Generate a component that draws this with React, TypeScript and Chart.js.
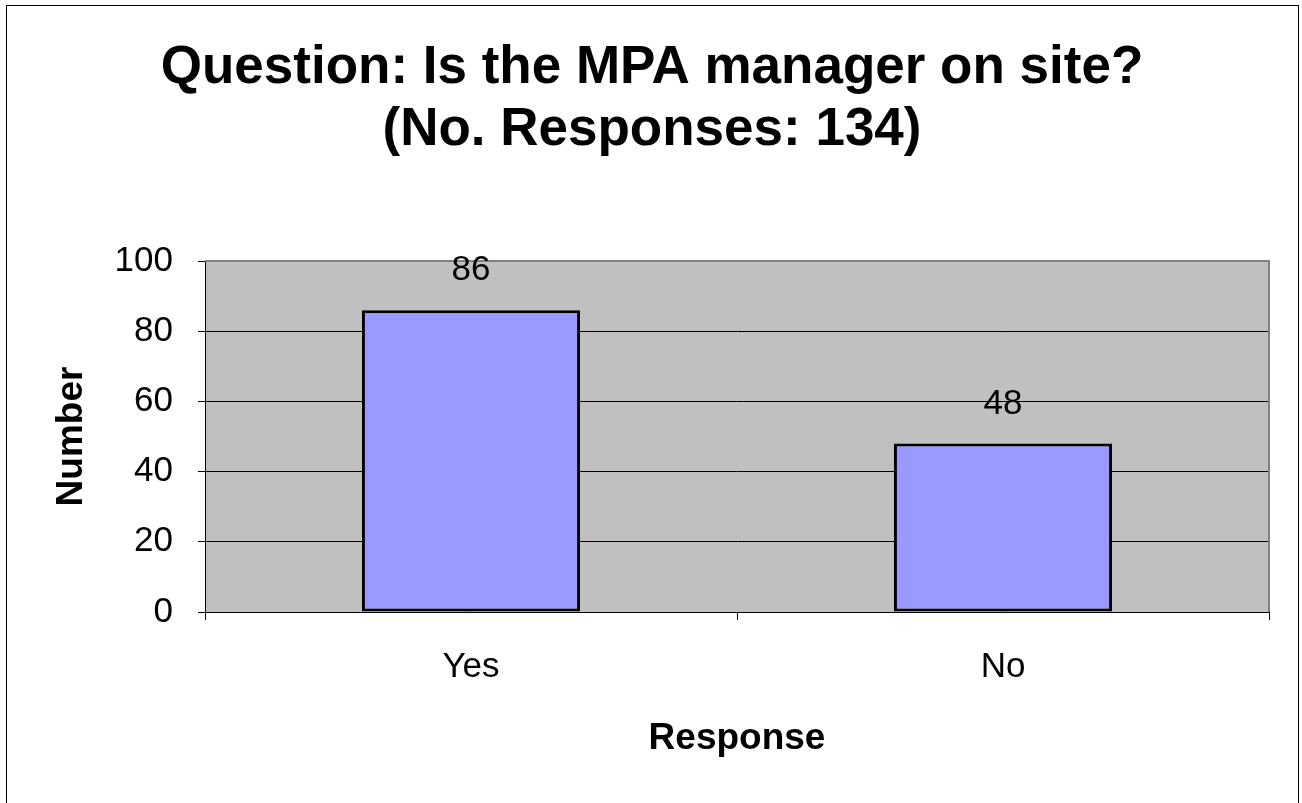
import React, { useEffect, useRef } from "react";
import { Chart, registerables } from "chart.js";

Chart.register(...registerables);

const titleLines = ["Question: Is the MPA manager on site?", "(No. Responses: 134)"];
const categories = ["Yes", "No"];
const counts = [86, 48];
const yMin = 0;
const yMax = 100;
const yStep = 20;
const xAxisTitle = "Response";
const yAxisTitle = "Number";

const FONT = "'Liberation Sans', Arial, Helvetica, sans-serif";

const plotBackground = {
  id: "plotBackground",
  beforeDraw(chart: any) {
    const { ctx, chartArea } = chart;
    ctx.save();
    ctx.fillStyle = "#C0C0C0";
    ctx.fillRect(chartArea.left, chartArea.top, chartArea.right - chartArea.left, chartArea.bottom - chartArea.top);
    ctx.restore();
  },
  beforeDatasetsDraw(chart: any) {
    const { ctx, chartArea } = chart;
    ctx.save();
    ctx.strokeStyle = "#808080";
    ctx.lineWidth = 2;
    ctx.beginPath();
    ctx.moveTo(chartArea.left, chartArea.top);
    ctx.lineTo(chartArea.right, chartArea.top);
    ctx.lineTo(chartArea.right, chartArea.bottom);
    ctx.stroke();
    ctx.restore();
  },
};

const valueLabels = {
  id: "valueLabels",
  afterDatasetsDraw(chart: any) {
    const { ctx } = chart;
    const meta = chart.getDatasetMeta(0);
    ctx.save();
    ctx.font = `35px ${FONT}`;
    ctx.fillStyle = "#000";
    ctx.textAlign = "center";
    ctx.textBaseline = "alphabetic";
    meta.data.forEach((el: any, i: number) => {
      ctx.fillText(String(counts[i]), el.x, el.y - 30);
    });
    ctx.restore();
  },
};

export default function App() {
  const ref = useRef<HTMLCanvasElement | null>(null);

  useEffect(() => {
    if (!ref.current) return;
    Chart.defaults.font.family = FONT;
    const chart = new Chart(ref.current, {
      type: "bar",
      data: {
        labels: categories,
        datasets: [
          {
            data: counts,
            backgroundColor: "#9999FF",
            borderColor: "#000000",
            borderWidth: 3,
            borderSkipped: false,
            barPercentage: 0.41,
            categoryPercentage: 1,
          },
        ],
      },
      options: {
        responsive: false,
        animation: false,
        devicePixelRatio: 1,
        layout: { padding: 0 },
        plugins: {
          legend: { display: false },
          tooltip: { enabled: false },
          title: {
            display: true,
            text: titleLines,
            color: "#000",
            font: { family: FONT, size: 53, weight: "bold", lineHeight: 62 / 53 },
            padding: { top: 31, bottom: 100 },
          },
        },
        scales: {
          x: {
            type: "category",
            offset: true,
            grid: {
              display: true,
              drawOnChartArea: false,
              offset: true,
              tickLength: 8,
              color: "#000",
              tickColor: "#000",
              lineWidth: 1,
            },
            border: { display: true, color: "#000", width: 1 },
            ticks: { color: "#000", font: { family: FONT, size: 35 }, padding: 26 },
            title: {
              display: true,
              text: xAxisTitle,
              color: "#000",
              font: { family: FONT, size: 37, weight: "bold", lineHeight: 1.2 },
              padding: { top: 0, bottom: 42 },
            },
            afterFit: (s: any) => {
              s.height = 191;
            },
          },
          y: {
            type: "linear",
            min: yMin,
            max: yMax,
            grid: {
              color: (c: any) => (c.tick && c.tick.value === yMax ? "rgba(0,0,0,0)" : "#000"),
              tickColor: "#000",
              tickLength: 7,
              lineWidth: 1,
            },
            border: { display: true, color: "#000", width: 1 },
            ticks: { stepSize: yStep, color: "#000", font: { family: FONT, size: 35 }, padding: 25 },
            title: {
              display: true,
              text: yAxisTitle,
              color: "#000",
              font: { family: FONT, size: 37, weight: "bold", lineHeight: 1.2 },
              padding: { top: 43, bottom: 0 },
            },
            afterFit: (s: any) => {
              s.width = 198;
            },
          },
          r: {
            type: "linear",
            position: "right",
            display: true,
            grid: { display: false, drawTicks: false },
            ticks: { display: false },
            border: { display: false },
            title: { display: false },
            afterFit: (s: any) => {
              s.width = 28;
            },
          },
        },
      },
      plugins: [plotBackground, valueLabels],
    } as any);
    return () => chart.destroy();
  }, []);

  return (
    <div
      style={{
        position: "fixed",
        left: 0,
        top: 0,
        width: 1302,
        height: 803,
        overflow: "hidden",
        background: "#fff",
      }}
    >
      <div
        style={{
          position: "absolute",
          left: 6,
          top: 5,
          width: 1293,
          height: 820,
          boxSizing: "border-box",
          border: "1px solid #000",
        }}
      />
      <canvas
        ref={ref}
        width={1290}
        height={797}
        style={{ position: "absolute", left: 7, top: 6, width: 1290, height: 797 }}
      />
    </div>
  );
}
